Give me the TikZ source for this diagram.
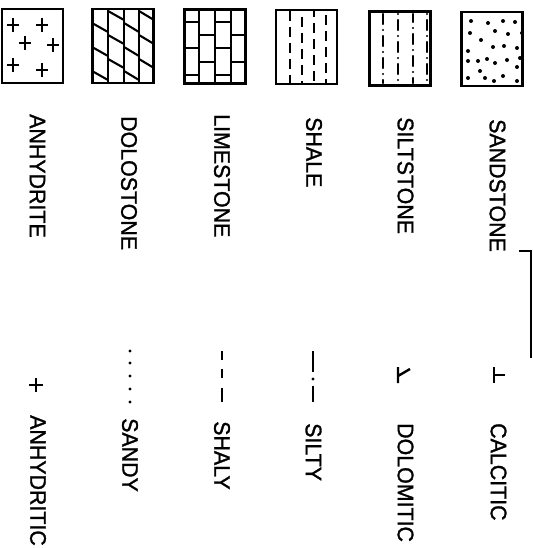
\documentclass[tikz,border=0pt]{standalone}
\usepackage{fontspec}
\setmainfont{Liberation Sans}
\newfontfamily\lblfont{Liberation Sans}[FakeBold=1.3, FakeStretch=0.95]
\begin{document}
\begin{tikzpicture}[x=1pt,y=-1pt,
  box/.style={draw, line width=2.6pt, minimum width=61pt, minimum height=74pt, inner sep=0pt},
  pat/.style={line width=2.1pt},
  lbl/.style={rotate=-90, anchor=west, inner sep=0pt, font=\lblfont\fontsize{22.5}{24}\selectfont}]
\useasboundingbox (0,0) rectangle (532,548);

% ---------- boxes ----------
\node[box] (anhbox) at (32.5,46) {};
\node[box] (dolbox) at (123,46) {};
\node[box] (limbox) at (215,46.5) {};
\node[box] (shabox) at (306.5,47) {};
\node[box] (silbox) at (400,48.5) {};
\node[box] (sanbox) at (492,49) {};

% anhydrite crosses
\foreach \x/\y in {13/25, 42/25, 25/43, 53/45, 13/65, 42/70}
  \draw[pat] (\x-6,\y) -- (\x+6,\y) (\x,\y-7) -- (\x,\y+7);

% dolostone
\begin{scope}
\clip (92.5,9) rectangle (153.5,83);
\draw[pat] (108,9) -- (108,83) (124,9) -- (124,83) (139,9) -- (139,83);
\foreach \xl/\xr/\o in {92/108/23, 108/124/11, 124/139/23, 139/154/11}
  \foreach \k in {-1,0,1,2,3}
    \draw[pat] (\xl,\o+24*\k) -- (\xr,\o+24*\k+9);
\end{scope}

% limestone
\draw[pat] (199,10) -- (199,83) (215,10) -- (215,83) (231,10) -- (231,83);
\foreach \y in {22,48,75} {\draw[pat] (183,\y) -- (199,\y); \draw[pat] (215,\y) -- (231,\y);}
\foreach \y in {35,62} {\draw[pat] (199,\y) -- (215,\y); \draw[pat] (231,\y) -- (247,\y);}

% shale
\draw[pat, dash pattern=on 10pt off 6pt] (290,11) -- (290,83);
\draw[pat, dash pattern=on 10pt off 6pt, dash phase=10pt] (302,11) -- (302,83);
\draw[pat, dash pattern=on 10pt off 6pt, dash phase=4pt] (314,11) -- (314,83);
\draw[pat, dash pattern=on 10pt off 6pt, dash phase=12pt] (326,11) -- (326,83);

% siltstone
\begin{scope}[pat, line width=2.4pt, line cap=round]
\draw[dash pattern=on 10pt off 6pt on 0pt off 6pt] (383,14) -- (383,83);
\draw[dash pattern=on 10pt off 6pt on 0pt off 6pt, dash phase=16pt] (398,14) -- (398,83);
\draw[dash pattern=on 10pt off 6pt on 0pt off 6pt, dash phase=2pt] (413,14) -- (413,83);
\draw[dash pattern=on 10pt off 6pt on 0pt off 6pt, dash phase=16pt] (427,14) -- (427,83);
\end{scope}

% sandstone
\foreach \x/\y in {471/21,488/23,503/21,515/22,470/33,495/31,508/34,522/33,481/40,493/47,504/46,517/48,468/51,468/61,478/61,487/59,495/63,507/60,520/58,480/71,517/67,468/78,485/78,494/81,503/76,517/81}
  \fill (\x,\y) circle (2);

% ---------- names ----------
\node[lbl] (lanh) at (37.5,114) {ANHYDRITE};
\node[lbl] (ldol) at (129,116) {DOLOSTONE};
\node[lbl] (llim) at (222,114) {LIMESTONE};
\node[lbl] (lsha) at (314,117) {SHALE};
\node[lbl] (lsil) at (405.5,117) {SILTSTONE};
\node[lbl] (lsan) at (497.5,119) {SANDSTONE};

% ---------- modifier symbols ----------
% anhydritic
\draw[pat, line width=2.5pt] (29,385) -- (43,385) (36,378) -- (36,392);
% sandy
\foreach \y in {351,363,376,389,402} \fill (130,\y) circle (1.7);
% shaly
\draw[pat, line width=2.4pt] (222,351) -- (222,360) (222,369) -- (222,378) (222,388) -- (222,402);
% silty
\draw[pat, line width=2.4pt] (313,351) -- (313,372) (313,386) -- (313,402);
\fill (313,379) circle (1.6);
% dolomitic
\draw[pat, line width=2.4pt] (398,367) -- (398,383) (398,376) -- (410,369);
% calcitic
\draw[pat, line width=2.4pt] (494,367) -- (494,383) (494,375) -- (505,375);

% ---------- modifier names ----------
\node[lbl] (manh) at (38,415) {ANHYDRITIC};
\node[lbl] (msan) at (130,418) {SANDY};
\node[lbl] (msha) at (222,421) {SHALY};
\node[lbl] (msil) at (313.5,423) {SILTY};
\node[lbl] (mdol) at (405.5,423) {DOLOMITIC};
\node[lbl] (mcal) at (498.5,423) {CALCITIC};

% frame edge at right
\draw[line width=2.2pt] (519,251) -- (531,251) -- (531,358);
\end{tikzpicture}
\end{document}
